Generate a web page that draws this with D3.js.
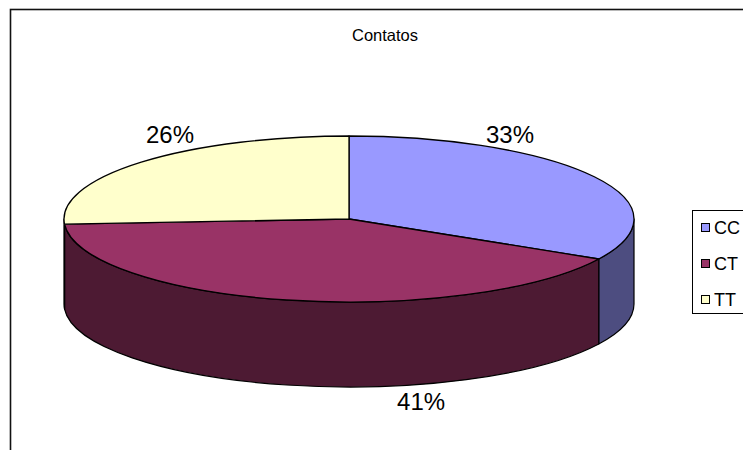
<!DOCTYPE html>
<html>
<head>
<meta charset="utf-8">
<script src="https://cdn.jsdelivr.net/npm/d3@7"></script>
<style>
  body { margin: 0; background: #fff; }
  svg { display: block; font-family: "Liberation Sans", Arial, sans-serif; }
</style>
</head>
<body>
<div id="chart"></div>
<script>
// Data
const title = 'Contatos';
const categories = ['CC', 'CT', 'TT'];
const values = [33, 41, 26];

// Colours (top face / side wall)
const topColors = ['#9999FF', '#993366', '#FFFFCC'];
const sideColors = ['#4D4D80', '#4D1A33', '#808066'];

// Label placement, relative to the pie (fractions of rx, offsets from cy)
const labelLayout = [
  { fx: 0.565, dy: -76 },
  { fx: 0.253, dy: 191 },
  { fx: -0.628, dy: -76 }
];

const width = 743;
const height = 450;

const svg = d3.select('#chart')
  .append('svg')
  .attr('width', width)
  .attr('height', height);

// Chart border (runs off the right and bottom edges)
svg.append('rect')
  .attr('x', 10.5)
  .attr('y', 9.5)
  .attr('width', 800)
  .attr('height', 500)
  .attr('fill', '#fff')
  .attr('stroke', '#111')
  .attr('stroke-width', 1.6);

// Title
svg.append('text')
  .attr('x', 385)
  .attr('y', 41)
  .attr('text-anchor', 'middle')
  .attr('font-size', '16.5px')
  .attr('fill', '#000')
  .text(title);

// Pie geometry
const cx = 349;
const cy = 219;
const rx = 285;
const ry = 83;
const depth = 85;

const total = d3.sum(values);
const pie = d3.pie().sort(null).value(d => d)(values);

const pt = (a, dy = 0) => [cx + rx * Math.sin(a), cy - ry * Math.cos(a) + dy];

// Side walls (front half only: angles between PI/2 and 3PI/2)
const walls = svg.append('g');
pie.forEach((d, i) => {
  const b0 = Math.max(d.startAngle, Math.PI / 2);
  const b1 = Math.min(d.endAngle, Math.PI * 1.5);
  if (b1 <= b0) return;
  const p0 = pt(b0), p1 = pt(b1), q1 = pt(b1, depth), q0 = pt(b0, depth);
  const large = (b1 - b0) > Math.PI ? 1 : 0;
  const path = `M${p0}A${rx},${ry} 0 ${large} 1 ${p1}L${q1}A${rx},${ry} 0 ${large} 0 ${q0}Z`;
  walls.append('path')
    .attr('d', path)
    .attr('fill', sideColors[i])
    .attr('stroke', '#000')
    .attr('stroke-width', 1.2)
    .attr('stroke-linejoin', 'round');
});

// Top faces
const arc = d3.arc().innerRadius(0).outerRadius(rx);
svg.append('g')
  .attr('transform', `translate(${cx},${cy}) scale(1,${ry / rx})`)
  .selectAll('path')
  .data(pie)
  .enter()
  .append('path')
  .attr('d', arc)
  .attr('fill', (d, i) => topColors[i])
  .attr('stroke', '#000')
  .attr('stroke-width', 1.3)
  .attr('vector-effect', 'non-scaling-stroke')
  .attr('stroke-linejoin', 'round');

// Percentage labels
svg.selectAll('.pct')
  .data(pie)
  .enter()
  .append('text')
  .attr('class', 'pct')
  .attr('x', (d, i) => cx + labelLayout[i].fx * rx)
  .attr('y', (d, i) => cy + labelLayout[i].dy)
  .attr('text-anchor', 'middle')
  .attr('font-size', '24px')
  .attr('fill', '#000')
  .text(d => `${Math.round(d.value / total * 100)}%`);

// Legend (cut off by the right edge)
const legend = svg.append('g');
legend.append('rect')
  .attr('x', 692.5)
  .attr('y', 210.5)
  .attr('width', 80)
  .attr('height', 103)
  .attr('fill', '#fff')
  .attr('stroke', '#000')
  .attr('stroke-width', 1);

const yLegend = d3.scalePoint()
  .domain(categories)
  .range([228, 300]);

categories.forEach((c, i) => {
  legend.append('rect')
    .attr('x', 701.5)
    .attr('y', yLegend(c) - 4.5)
    .attr('width', 8)
    .attr('height', 8)
    .attr('fill', topColors[i])
    .attr('stroke', '#000')
    .attr('stroke-width', 1);
  legend.append('text')
    .attr('x', 714)
    .attr('y', yLegend(c) + 6)
    .attr('font-size', '18px')
    .attr('fill', '#000')
    .text(c);
});
</script>
</body>
</html>
